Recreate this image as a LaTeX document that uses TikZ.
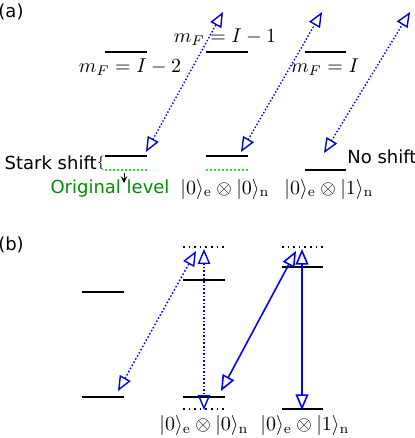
\documentclass[tikz,border=0pt]{standalone}
\usepackage{amsmath,amssymb}
\usepackage{fontspec}
\setsansfont{DejaVu Sans}
\usetikzlibrary{arrows}
\definecolor{qqqqcc}{rgb}{0,0,0.8}
\definecolor{qqqqff}{rgb}{0,0,1}
\definecolor{qqffqq}{rgb}{0.2,0.85,0.2}
\definecolor{qqzzqq}{rgb}{0,0.55,0}
\tikzset{
  level/.style={line width=1pt,color=black},
  oldlevel/.style={line width=1pt,densely dotted,color=qqffqq},
  virt/.style={line width=0.8pt,dotted,color=black},
  laser/.style={<->,>=open triangle 45,line width=0.7pt,densely dotted,color=qqqqcc},
  laserb/.style={<->,>=open triangle 45,line width=0.8pt,color=qqqqff},
  sans/.style={font=\sffamily\fontsize{9}{10}\selectfont}
}
\begin{document}
\begin{tikzpicture}[line cap=butt,line join=round,x=0.5pt,y=-0.5pt]
\useasboundingbox (0,0) rectangle (415,438);
% (a)
\node[sans] (lab-a) at (11,12) {(a)};
\draw[level] (105,52) -- (147,52);
\draw[level] (206,52) -- (248,52);
\draw[level] (305,52) -- (346,52);
\node (mF2) at (130,67) {$m_F=I-2$};
\node (mF1) at (225,37) {$m_F=I-1$};
\node (mF0) at (325,67) {$m_F=I$};
\draw[level] (105,156) -- (147,156);
\draw[level] (206,156) -- (248,156);
\draw[level] (305,170) -- (346,170);
\draw[oldlevel] (105,170) -- (147,170);
\draw[oldlevel] (206,170) -- (248,170);
\coordinate (a1b) at (146,152);
\coordinate (a1t) at (223,12);
\coordinate (a2b) at (241,152);
\coordinate (a2t) at (322,12);
\coordinate (a3b) at (324,153);
\coordinate (a3t) at (410,12);
\draw[laser] (a1b) -- (a1t);
\draw[laser] (a2b) -- (a2t);
\draw[laser] (a3b) -- (a3t);
\node[sans,anchor=east,inner sep=0pt] (stark) at (97,163) {Stark shift};
\node[inner sep=0pt,font=\scriptsize] (brace) at (101,163) {$\{$};
\coordinate (sh1) at (124,173);
\coordinate (sh2) at (124,183);
\draw[-stealth,line width=0.5pt] (sh1) -- (sh2);
\node[sans,color=qqzzqq] (orig) at (110,189) {Original level};
\node[sans,anchor=west,inner sep=0pt] (noshift) at (347,157) {No shift};
\node (ket00a) at (225,189) {$|0\rangle_{\mathrm{e}}\otimes|0\rangle_{\mathrm{n}}$};
\node (ket01a) at (329,189) {$|0\rangle_{\mathrm{e}}\otimes|1\rangle_{\mathrm{n}}$};
% (b)
\node[sans] (lab-b) at (11,245) {(b)};
\draw[level] (82,292) -- (124,292);
\draw[level] (82,397) -- (124,397);
\draw[virt] (183,247) -- (225,247);
\draw[level] (183,280) -- (225,280);
\draw[level] (183,397) -- (225,397);
\draw[virt] (183,409) -- (225,409);
\draw[virt] (282,247) -- (323,247);
\draw[level] (282,267) -- (323,267);
\draw[level] (282,409) -- (323,409);
\coordinate (b1b) at (118,391);
\coordinate (b1t) at (196,251);
\coordinate (b2t) at (204,249);
\coordinate (b2b) at (204,410);
\coordinate (b3b) at (221,391);
\coordinate (b3t) at (296,251);
\coordinate (b4t) at (302,249);
\coordinate (b4b) at (302,410);
\draw[laserb,densely dotted,line width=0.7pt] (b1b) -- (b1t);
\draw[laserb,densely dotted,line width=0.7pt] (b2t) -- (b2b);
\draw[laserb] (b3b) -- (b3t);
\draw[laserb] (b4t) -- (b4b);
\node (ket00b) at (204,425) {$|0\rangle_{\mathrm{e}}\otimes|0\rangle_{\mathrm{n}}$};
\node (ket01b) at (305,425) {$|0\rangle_{\mathrm{e}}\otimes|1\rangle_{\mathrm{n}}$};
\end{tikzpicture}
\end{document}
